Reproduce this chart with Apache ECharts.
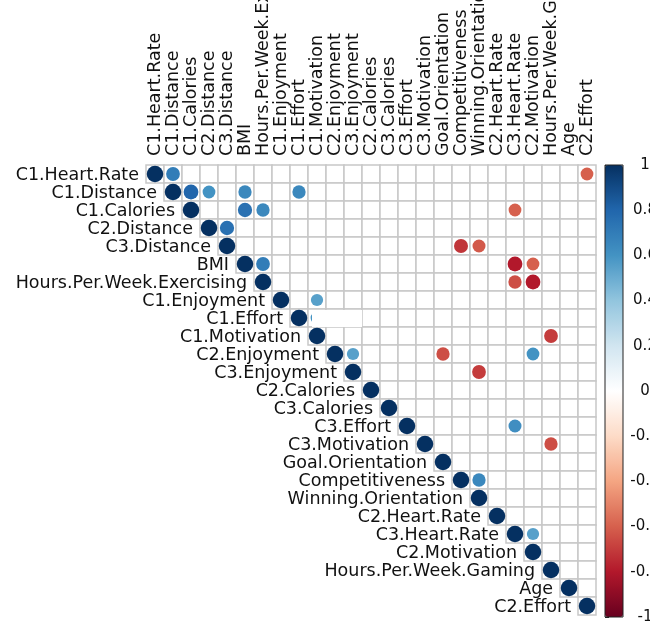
<!DOCTYPE html>
<html>
<head>
<meta charset="utf-8">
<script src="https://cdn.jsdelivr.net/npm/echarts@6/dist/echarts.min.js"></script>
<style>
html, body { margin: 0; padding: 0; background: #fff; }
#main { width: 650px; height: 621px; }
</style>
</head>
<body>
<div id="main"></div>
<script>
// variable names (rows and columns of the correlation matrix)
var variables = ['C1.Heart.Rate', 'C1.Distance', 'C1.Calories', 'C2.Distance', 'C3.Distance',
    'BMI', 'Hours.Per.Week.Exercising', 'C1.Enjoyment', 'C1.Effort', 'C1.Motivation',
    'C2.Enjoyment', 'C3.Enjoyment', 'C2.Calories', 'C3.Calories', 'C3.Effort',
    'C3.Motivation', 'Goal.Orientation', 'Competitiveness', 'Winning.Orientation', 'C2.Heart.Rate',
    'C3.Heart.Rate', 'C2.Motivation', 'Hours.Per.Week.Gaming', 'Age', 'C2.Effort'];
var diagonal = [1, 1, 1, 1, 1, 1, 1, 1, 1, 1, 1, 1, 1, 1, 1, 1, 1, 1, 1, 1, 1, 1, 1, 1, 1];

// significant off-diagonal correlations (row index, column index, r)
var corrRows   = [0, 0, 1, 1, 1, 1, 2, 2, 2, 3, 4, 4, 5, 5, 5, 6, 6, 7, 8, 9, 10, 10, 10, 11, 14, 15, 17, 20];
var corrCols   = [1, 24, 2, 3, 5, 8, 5, 6, 20, 4, 17, 18, 6, 20, 21, 20, 21, 9, 9, 22, 11, 16, 21, 18, 20, 22, 18, 21];
var corrValues = [0.7, -0.6, 0.8, 0.6, 0.65, 0.65, 0.75, 0.65, -0.6, 0.75, -0.72, -0.62, 0.7, -0.8, -0.6,
    -0.65, -0.8, 0.55, 0.6, -0.7, 0.55, -0.65, 0.6, -0.7, 0.62, -0.65, 0.65, 0.55];

var barTicks = [-1, -0.8, -0.6, -0.4, -0.2, 0, 0.2, 0.4, 0.6, 0.8, 1];

var rdbu = ['#67001F', '#B2182B', '#D6604D', '#F4A582', '#FDDBC7', '#FFFFFF',
    '#D1E5F0', '#92C5DE', '#4393C3', '#2166AC', '#053061'];

var cells = [];
for (var i = 0; i < variables.length; i++) {
    for (var j = i; j < variables.length; j++) {
        cells.push([j, i]);
    }
}
var points = [];
for (var d = 0; d < diagonal.length; d++) {
    points.push([d, d, diagonal[d]]);
}
for (var k = 0; k < corrValues.length; k++) {
    points.push([corrCols[k], corrRows[k], corrValues[k]]);
}
var labelIdx = [];
for (var r = 0; r < variables.length; r++) {
    labelIdx.push([r, r]);
}

var labelFont = '17.5px "DejaVu Sans"';
var chart = echarts.init(document.getElementById('main'));
var option = {
    animation: false,
    grid: [
        { left: 146, top: 165, width: 450, height: 450, outerBoundsMode: 'none', containLabel: false },
        { left: 605, top: 165, width: 18, height: 452, outerBoundsMode: 'none', containLabel: false,
          show: true, borderColor: '#222', borderWidth: 1, backgroundColor: 'transparent', z: 10 }
    ],
    xAxis: [
        {
            type: 'category', data: variables, position: 'top', gridIndex: 0,
            axisLine: { show: false }, axisTick: { show: false }, splitLine: { show: false }, axisLabel: { show: false }
        },
        { type: 'value', gridIndex: 1, show: false, min: 0, max: 1 }
    ],
    yAxis: [
        {
            type: 'category', data: variables, inverse: true, gridIndex: 0,
            axisLine: { show: false }, axisTick: { show: false }, axisLabel: { show: false }, splitLine: { show: false }
        },
        {
            type: 'value', gridIndex: 1, position: 'right', min: barTicks[0], max: barTicks[barTicks.length - 1], interval: 0.2,
            axisLine: { show: false }, splitLine: { show: false },
            axisTick: { show: true, length: 4, lineStyle: { color: '#222' } },
            axisLabel: {
                margin: 22, align: 'center', fontSize: 15, fontFamily: 'DejaVu Sans', color: '#111',
                formatter: function (v) { return String(Math.round(v * 10) / 10); }
            }
        }
    ],
    visualMap: {
        type: 'continuous', min: -1, max: 1, calculable: false, dimension: 2, seriesIndex: 1,
        left: 605, top: 165, itemWidth: 18, itemHeight: 452, padding: 0,
        inRange: { color: rdbu }, text: null, show: true
    },
    series: [
        {
            type: 'custom', xAxisIndex: 0, yAxisIndex: 0, data: cells, silent: true, z: 1,
            renderItem: function (params, api) {
                var p = api.coord([api.value(0), api.value(1)]);
                var s = api.size([1, 1]);
                return {
                    type: 'rect',
                    shape: { x: p[0] - s[0] / 2, y: p[1] - s[1] / 2, width: s[0], height: s[1] },
                    style: { fill: '#fff', stroke: '#c8c8c8', lineWidth: 1.5 }
                };
            }
        },
        {
            type: 'scatter', xAxisIndex: 0, yAxisIndex: 0, data: points, z: 3,
            symbolSize: function (val) { return 16.5 * Math.sqrt(Math.abs(val[2])); },
            itemStyle: { opacity: 1 }
        },
        {
            // row labels beside the diagonal, column labels above the grid
            type: 'custom', xAxisIndex: 0, yAxisIndex: 0, data: labelIdx, silent: true, z: 4,
            renderItem: function (params, api) {
                var idx = params.dataIndex;
                var p = api.coord([api.value(0), api.value(1)]);
                var top = api.coord([api.value(0), 0]);
                var s = api.size([1, 1]);
                return {
                    type: 'group',
                    children: [
                        {
                            type: 'text',
                            style: {
                                x: p[0] - s[0] / 2 - 7, y: p[1] + 1,
                                text: variables[idx], textAlign: 'right', textVerticalAlign: 'middle',
                                font: labelFont, fill: '#111'
                            }
                        },
                        {
                            type: 'text',
                            x: top[0], y: top[1] - s[1] / 2 - 9,
                            rotation: Math.PI / 2,
                            style: {
                                x: 0, y: 0,
                                text: variables[idx], textAlign: 'left', textVerticalAlign: 'middle',
                                font: labelFont, fill: '#111'
                            }
                        }
                    ]
                };
            }
        }
    ],
    graphic: [
        { type: 'rect', left: 312, top: 310, shape: { width: 50, height: 17 }, style: { fill: '#fff' }, z: 100 }
    ]
};
chart.setOption(option, true);
</script>
</body>
</html>
